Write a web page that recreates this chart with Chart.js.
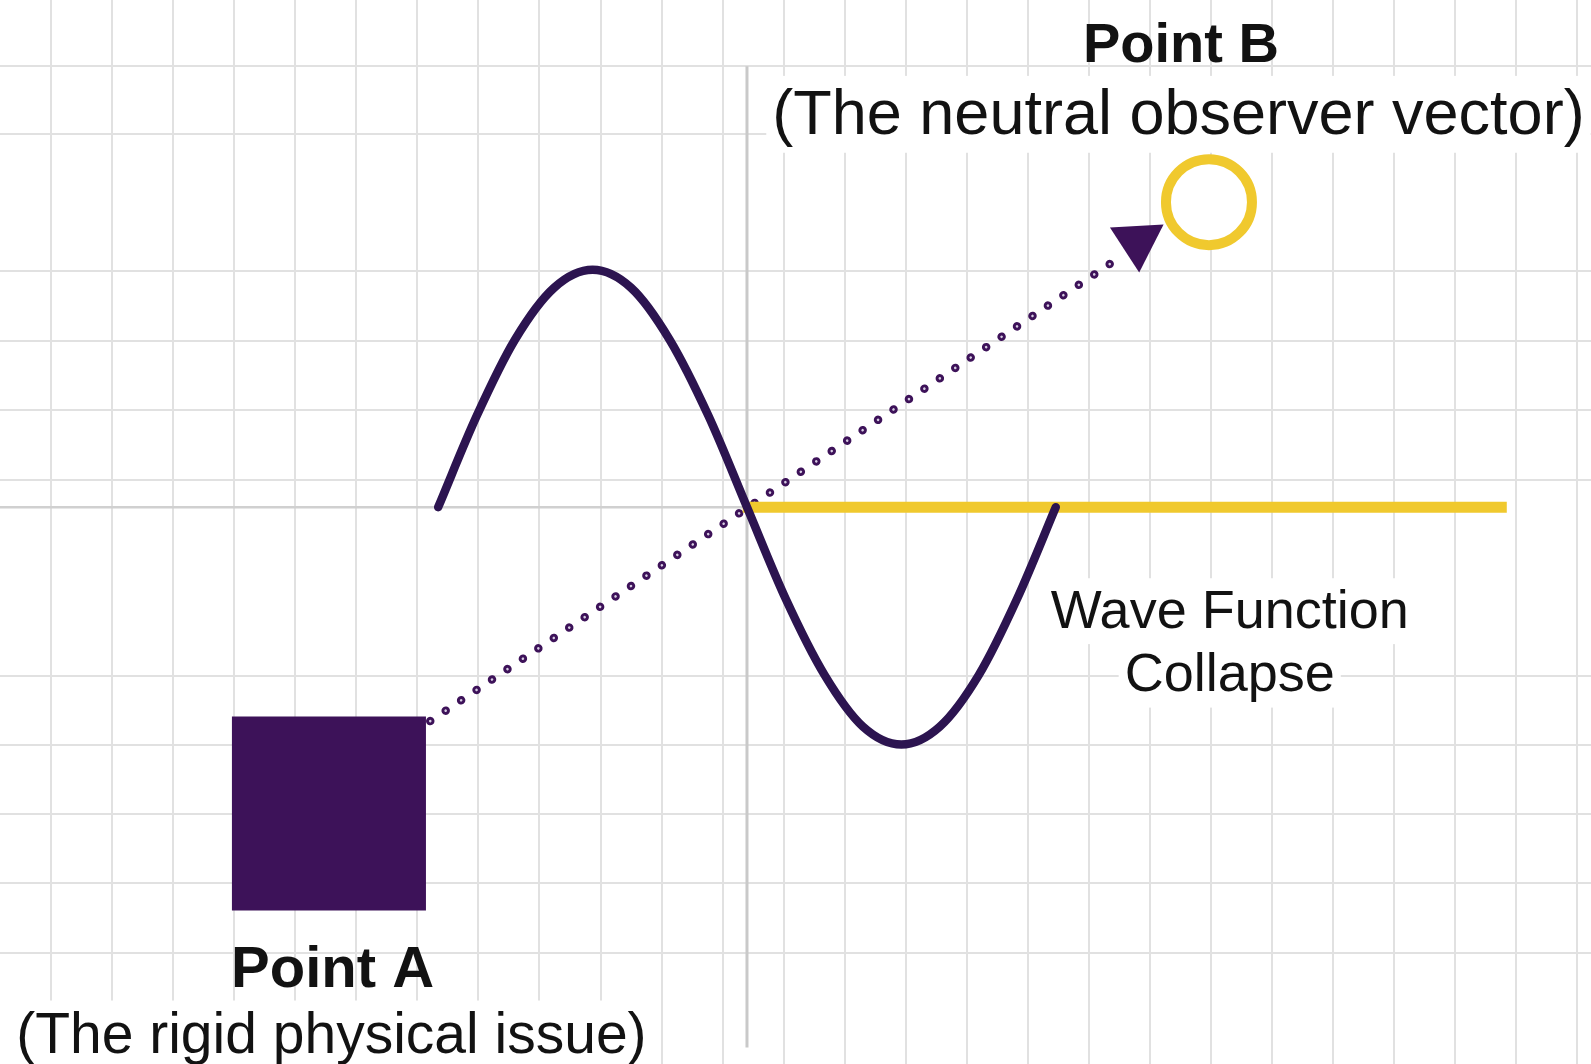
<!DOCTYPE html>
<html>
<head>
<meta charset="utf-8">
<title>Point A → Point B</title>
<script src="https://cdn.jsdelivr.net/npm/chart.js@4.4.1/dist/chart.umd.min.js"></script>
<style>
  html, body { margin: 0; padding: 0; background: #fff; overflow: hidden; }
  canvas { display: block; }
</style>
</head>
<body>
<canvas id="c" width="1591" height="1064"></canvas>
<script>
// ── data: grid-cell units, origin where the two axes cross ──
const X_RANGE = [-12.24, 13.83];
const Y_RANGE = [-8.07, 7.35];
const X_GRID_FIRST = -11.4;          // leftmost vertical grid line
const X_GRID_COUNT = 26;
const Y_GRID = [6.39, 5.41, 3.42, 2.41, 1.41, 0.39, -2.45, -3.45, -4.45, -5.45, -6.46];

const WAVE_X = [-5.06, -4.43, -3.8, -3.16, -2.53, -1.9, -1.27, -0.63, 0, 0.63, 1.27, 1.9, 2.53, 3.16, 3.8, 4.43, 5.06];
const WAVE_Y = [0, 1.32, 2.43, 3.18, 3.44, 3.18, 2.43, 1.32, 0, -1.32, -2.43, -3.18, -3.44, -3.18, -2.43, -1.32, 0];

const COLLAPSE_X = [-0.07, 12.45];   // yellow collapsed line
const COLLAPSE_Y = [0, 0];

const PATH_X = [-5.19, 6.19];        // dotted vector A → B
const PATH_Y = [-3.10, 3.67];

const AXIS_V_X = [0, 0];
const AXIS_V_Y = [6.39, -7.83];
const AXIS_H_X = [-12.24, 0];
const AXIS_H_Y = [0, 0];

const POINT_A = { x: -6.85, y: -4.44 };
const POINT_B = { x: 7.57, y: 4.42 };
const ARROW_TIP = { x: 6.40, y: 3.85 };

const LABEL_TEXT = ['Point B', '(The neutral observer vector)', 'Point A', '(The rigid physical issue)', 'Wave Function', 'Collapse'];

// ── layout of the labels (anchor = centre of the baseline) ──
const LABEL_POS = [[7.11, 6.45], [7.07, 5.41], [-6.79, -6.96], [-6.81, -7.91], [7.91, -1.75], [7.91, -2.67]];
const LABEL_FONT = [['bold', 56], ['normal', 63], ['bold', 58], ['normal', 57], ['normal', 54], ['normal', 54]];
const LABEL_BOX = [false, true, false, true, true, true];

const PURPLE = '#3d1259';
const WAVE_COL = '#2c1450';
const YELLOW = '#f0c92e';
const FONT = '"Liberation Sans", Arial, sans-serif';

function pts(xs, ys) { return xs.map(function (x, i) { return { x: x, y: ys[i] }; }); }

function gridTicks(values) {
  return function (scale) { scale.ticks = values.map(function (v) { return { value: v }; }); };
}
const X_GRID = Array.from({ length: X_GRID_COUNT }, function (_, k) { return X_GRID_FIRST + k; });

// labels drawn after the grid, under the marks
const labelPlugin = {
  id: 'labels',
  beforeDatasetsDraw: function (chart) {
    const ctx = chart.ctx, xs = chart.scales.x, ys = chart.scales.y;
    LABEL_TEXT.forEach(function (txt, i) {
      const f = LABEL_FONT[i];
      const px = xs.getPixelForValue(LABEL_POS[i][0]);
      const py = ys.getPixelForValue(LABEL_POS[i][1]);
      ctx.save();
      ctx.font = f[0] + ' ' + f[1] + 'px ' + FONT;
      const w = ctx.measureText(txt).width;
      if (LABEL_BOX[i]) {
        ctx.fillStyle = '#fff';
        ctx.fillRect(px - w / 2 - 6, py - f[1] * 0.92, w + 12, f[1] * 1.22);
      }
      ctx.fillStyle = '#121212';
      ctx.textAlign = 'center';
      ctx.textBaseline = 'alphabetic';
      ctx.fillText(txt, px, py);
      ctx.restore();
    });
  }
};

const line = function (data, col, width, extra) {
  return Object.assign({ type: 'line', data: data, borderColor: col, borderWidth: width, pointRadius: 0, fill: false, tension: 0 }, extra || {});
};
const mark = function (p, style, radius, extra) {
  return Object.assign({ type: 'scatter', data: [p], pointStyle: style, pointRadius: radius, pointHoverRadius: radius }, extra);
};

new Chart(document.getElementById('c'), {
  data: {
    datasets: [
      mark(POINT_B, 'circle', 43, { pointBackgroundColor: '#fff', pointBorderColor: YELLOW, pointBorderWidth: 10, pointHoverBorderWidth: 10, order: 0 }),
      mark(ARROW_TIP, 'triangle', 31, { pointRotation: 177, pointBackgroundColor: PURPLE, pointBorderWidth: 0, order: 1 }),
      mark(POINT_A, 'rect', 137.2, { pointBackgroundColor: PURPLE, pointBorderWidth: 0, order: 2 }),
      line(pts(WAVE_X, WAVE_Y), WAVE_COL, 8.5, { cubicInterpolationMode: 'monotone', borderCapStyle: 'round', borderJoinStyle: 'round', order: 3 }),
      line(pts(COLLAPSE_X, COLLAPSE_Y), YELLOW, 11, { order: 4 }),
      line(pts(PATH_X, PATH_Y), '#d6cce2', 2.6, { borderDash: [0.01, 18.6], borderCapStyle: 'round', order: 5 }),
      line(pts(PATH_X, PATH_Y), PURPLE, 8.5, { borderDash: [0.01, 18.6], borderCapStyle: 'round', order: 6 }),
      line(pts(AXIS_V_X, AXIS_V_Y), '#c9c9c9', 3, { order: 7 }),
      line(pts(AXIS_H_X, AXIS_H_Y), '#d0d0d0', 2.5, { order: 8 })
    ]
  },
  options: {
    responsive: false,
    devicePixelRatio: 1,
    animation: false,
    events: [],
    layout: { padding: 0, autoPadding: false },
    plugins: { legend: { display: false }, tooltip: { enabled: false } },
    scales: {
      x: {
        type: 'linear', min: X_RANGE[0], max: X_RANGE[1],
        afterBuildTicks: gridTicks(X_GRID),
        ticks: { display: false },
        grid: { color: '#e1e1e1', lineWidth: 2, drawTicks: false },
        border: { display: false }
      },
      y: {
        type: 'linear', min: Y_RANGE[0], max: Y_RANGE[1],
        afterBuildTicks: gridTicks(Y_GRID),
        ticks: { display: false },
        grid: { color: '#e1e1e1', lineWidth: 2, drawTicks: false },
        border: { display: false }
      }
    }
  },
  plugins: [labelPlugin]
});
</script>
</body>
</html>
